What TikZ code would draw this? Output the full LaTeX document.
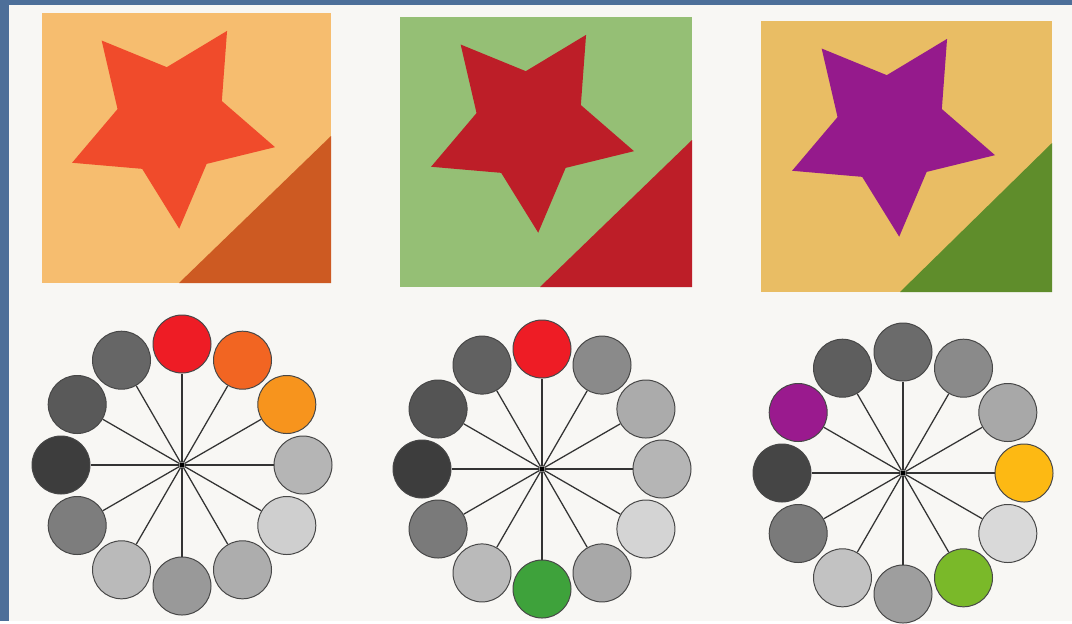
\documentclass[tikz,border=0pt]{standalone}
\usepackage{tikz}
\usetikzlibrary{calc}
\definecolor{page}{HTML}{F8F7F4}
\definecolor{frame}{HTML}{4D6F99}
\definecolor{peach}{HTML}{F6BD6F}
\definecolor{tomato}{HTML}{F04B2B}
\definecolor{rust}{HTML}{CD5A22}
\definecolor{sage}{HTML}{95BF75}
\definecolor{crimson}{HTML}{BD1E28}
\definecolor{mustard}{HTML}{E9BD64}
\definecolor{plum}{HTML}{951A8C}
\definecolor{leaf}{HTML}{5F8D2B}
\definecolor{wred}{HTML}{EE1C25}
\definecolor{wflame}{HTML}{F26522}
\definecolor{wamber}{HTML}{F7941D}
\definecolor{wgreen}{HTML}{3EA23B}
\definecolor{wgold}{HTML}{FDB913}
\definecolor{wlime}{HTML}{7AB929}
\definecolor{wpurple}{HTML}{9A1A8E}
\tikzset{disc/.style = {shape = circle, draw = black!72, line width = 0.7pt, minimum size = 1.45cm, inner sep = 0pt}}
\tikzset{hub/.style = {shape = circle, fill = black, minimum size = 0.13cm, inner sep = 0pt}}
\tikzset{spoke/.style = {-, draw = black!80, line width = 0.9pt}}

\begin{document}
\begin{tikzpicture}[x = 0.025cm, y = -0.025cm]
	\fill[page] (0,0) rectangle (1072,621);
	\fill[frame] (0,0) rectangle (9,621);
	\fill[frame] (0,0) rectangle (1072,5);

	\fill[peach] (42,13) rectangle (331,283);
	\fill[rust] (331,136) -- (331,283) -- (179,283) -- cycle;
	\fill[tomato, shift = {(171,122)}] (-58.4:107) \foreach \k in {1,...,9} {-- ({-58.4-36*\k}:{107-52*mod(\k,2)})} -- cycle;

	\fill[sage] (400,17) rectangle (692,287);
	\fill[crimson] (692,140) -- (692,287) -- (540,287) -- cycle;
	\fill[crimson, shift = {(530,126)}] (-58.4:107) \foreach \k in {1,...,9} {-- ({-58.4-36*\k}:{107-52*mod(\k,2)})} -- cycle;

	\fill[mustard] (761,21) rectangle (1052,292);
	\fill[leaf] (1052,143) -- (1052,292) -- (900,292) -- cycle;
	\fill[plum, shift = {(891,130)}] (-58.4:107) \foreach \k in {1,...,9} {-- ({-58.4-36*\k}:{107-52*mod(\k,2)})} -- cycle;

	\node[hub] (ha) at (182,465) {};
	\foreach \a/\c [count = \i] in {270/wred, 300/wflame, 330/wamber, 0/black!29, 30/black!19, 60/black!32, 90/black!40, 120/black!27, 150/black!51, 180/black!76, 210/black!65, 240/black!60} {
		\node[disc, fill = \c] (a\i) at ($(ha) + (\a:121)$) {};
		\draw[spoke] (ha) to (a\i);
	}

	\node[hub] (hb) at (542,469) {};
	\foreach \a/\c [count = \i] in {270/wred, 300/black!46, 330/black!33, 0/black!29, 30/black!17, 60/black!34, 90/wgreen, 120/black!27, 150/black!52, 180/black!76, 210/black!67, 240/black!62} {
		\node[disc, fill = \c] (b\i) at ($(hb) + (\a:120)$) {};
		\draw[spoke] (hb) to (b\i);
	}

	\node[hub] (hc) at (903,473) {};
	\foreach \a/\c [count = \i] in {270/black!58, 300/black!46, 330/black!34, 0/wgold, 30/black!15, 60/wlime, 90/black!38, 120/black!24, 150/black!52, 180/black!73, 210/wpurple, 240/black!63} {
		\node[disc, fill = \c] (c\i) at ($(hc) + (\a:121)$) {};
		\draw[spoke] (hc) to (c\i);
	}
\end{tikzpicture}
\end{document}
